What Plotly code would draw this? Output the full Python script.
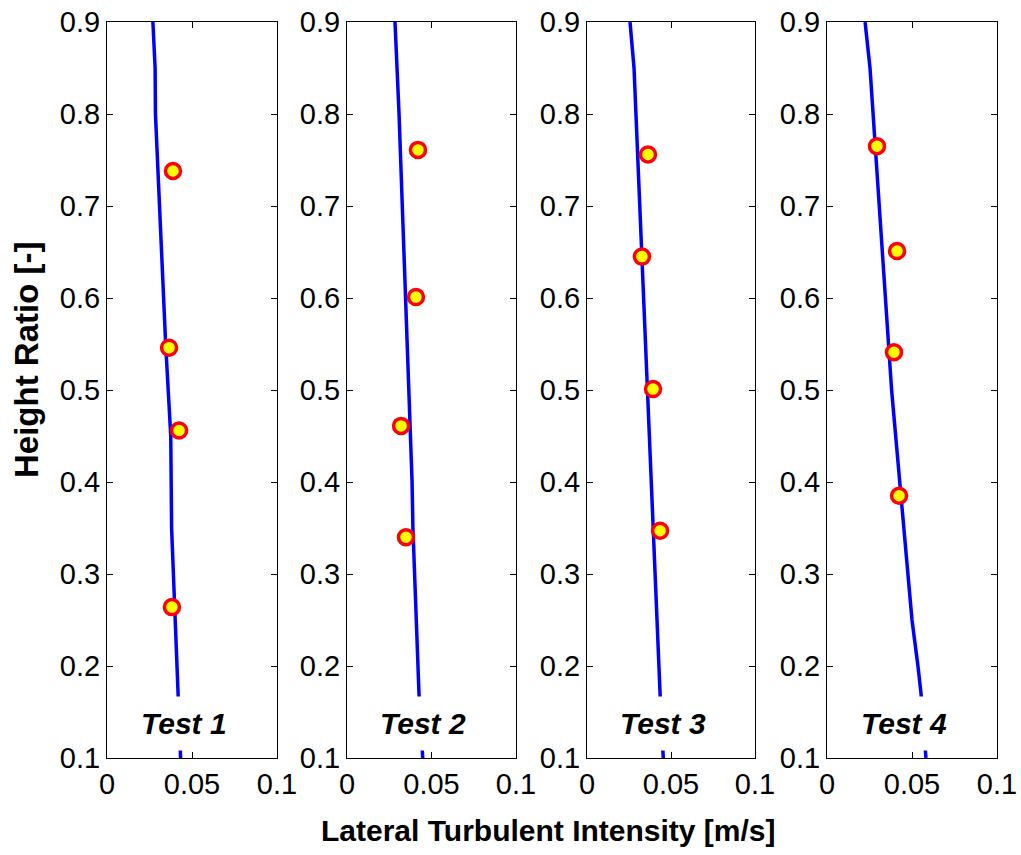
import plotly.graph_objects as go

# ---- data ----
tests = ["Test 1", "Test 2", "Test 3", "Test 4"]

line1_y = [0.10, 0.17, 0.25, 0.35, 0.45, 0.55, 0.80, 0.85, 0.90]
line1_x = [0.0433, 0.0418, 0.0400, 0.0380, 0.0375, 0.0345, 0.0285, 0.0283, 0.0270]
line2_y = [0.10, 0.17, 0.35, 0.40, 0.80, 0.90]
line2_x = [0.0448, 0.0426, 0.0390, 0.0385, 0.0308, 0.0284]
line3_y = [0.10, 0.17, 0.85, 0.90]
line3_x = [0.0454, 0.0435, 0.0280, 0.0256]
line4_y = [0.10, 0.17, 0.20, 0.25, 0.50, 0.85, 0.90]
line4_x = [0.0582, 0.0553, 0.0535, 0.0500, 0.0380, 0.0253, 0.0224]

pts1_y = [0.738, 0.546, 0.456, 0.264]
pts1_x = [0.0388, 0.0365, 0.0424, 0.0382]
pts2_y = [0.761, 0.601, 0.461, 0.340]
pts2_x = [0.0420, 0.0408, 0.0320, 0.0349]
pts3_y = [0.756, 0.645, 0.501, 0.347]
pts3_x = [0.0363, 0.0327, 0.0393, 0.0435]
pts4_y = [0.765, 0.651, 0.541, 0.385]
pts4_x = [0.0294, 0.0412, 0.0394, 0.0424]

x_ticks = [0, 0.05, 0.1]
x_ticklabels = ["0", "0.05", "0.1"]
y_ticks = [0.1, 0.2, 0.3, 0.4, 0.5, 0.6, 0.7, 0.8, 0.9]
y_ticklabels = ["0.1", "0.2", "0.3", "0.4", "0.5", "0.6", "0.7", "0.8", "0.9"]

lines = [(line1_x, line1_y), (line2_x, line2_y), (line3_x, line3_y), (line4_x, line4_y)]
pts = [(pts1_x, pts1_y), (pts2_x, pts2_y), (pts3_x, pts3_y), (pts4_x, pts4_y)]

FONT = "Liberation Sans, Arial, Helvetica, sans-serif"

# ---- layout geometry (body margin removed via post_script) ----
W, H = 1021, 855
L, T = 107, 22
panel_px = [(107, 277), (347, 516), (587, 755), (827, 997)]
R = W - panel_px[-1][1]
B = H - 758
pw = W - L - R
ph = H - T - B
domains = [((a - L) / pw, (b - L) / pw) for a, b in panel_px]

fig = go.Figure()
layout = dict(
    width=W, height=H,
    margin=dict(l=L, r=R, t=T, b=B, pad=0, autoexpand=False),
    paper_bgcolor="white", plot_bgcolor="white",
    showlegend=False,
    font=dict(family=FONT, size=29, color="black"),
    annotations=[],
)

for i in range(4):
    xa = "x" if i == 0 else f"x{i+1}"
    ya = "y" if i == 0 else f"y{i+1}"
    lx, ly = lines[i]
    px_, py_ = pts[i]
    fig.add_trace(go.Scatter(x=lx, y=ly, mode="lines",
                             line=dict(color="#0000FF", width=3.5),
                             xaxis=xa, yaxis=ya, hoverinfo="skip"))
    fig.add_trace(go.Scatter(x=px_, y=py_, mode="markers",
                             marker=dict(size=15, color="#FFFF00",
                                         line=dict(color="#FF0000", width=3.5)),
                             xaxis=xa, yaxis=ya))
    axcommon = dict(showgrid=False, zeroline=False, showline=True, linecolor="black",
                    linewidth=1, mirror="allticks", ticks="inside", ticklen=6,
                    tickcolor="black", tickwidth=1, automargin=False,
                    ticklabeloverflow="allow",
                    tickfont=dict(family=FONT, size=29, color="black"))
    xkey = "xaxis" if i == 0 else f"xaxis{i+1}"
    ykey = "yaxis" if i == 0 else f"yaxis{i+1}"
    layout[xkey] = dict(axcommon, domain=list(domains[i]), range=[0, 0.1],
                        tickvals=x_ticks, ticktext=x_ticklabels,
                        anchor=ya, ticklabelstandoff=0)
    layout[ykey] = dict(axcommon, domain=[0, 1], range=[0.1, 0.9],
                        tickvals=y_ticks, ticktext=y_ticklabels,
                        anchor=xa, ticklabelstandoff=0)
    layout["annotations"].append(dict(
        text="<b><i>" + tests[i] + "</i></b>", x=0.045, y=0.1375,
        xref=xa, yref=ya, showarrow=False, bgcolor="white", borderpad=10,
        font=dict(family=FONT, size=30, color="black"),
        xanchor="center", yanchor="middle"))

layout["annotations"].append(dict(
    text="<b>Lateral Turbulent Intensity [m/s]</b>",
    x=(548 - L) / pw, y=(H - B - 830) / ph,
    xref="paper", yref="paper", showarrow=False,
    font=dict(family=FONT, size=30, color="black"),
    xanchor="center", yanchor="middle"))
layout["annotations"].append(dict(
    text="<b>Height Ratio [-]</b>", textangle=-90,
    x=(26 - L) / pw, y=(H - B - 360) / ph,
    xref="paper", yref="paper", showarrow=False,
    font=dict(family=FONT, size=33, color="black"),
    xanchor="center", yanchor="middle"))

fig.update_layout(**layout)
fig.write_html("out.html",
               config={"displayModeBar": False, "staticPlot": True},
               post_script="document.body.style.margin='0';document.body.style.overflow='hidden';")
